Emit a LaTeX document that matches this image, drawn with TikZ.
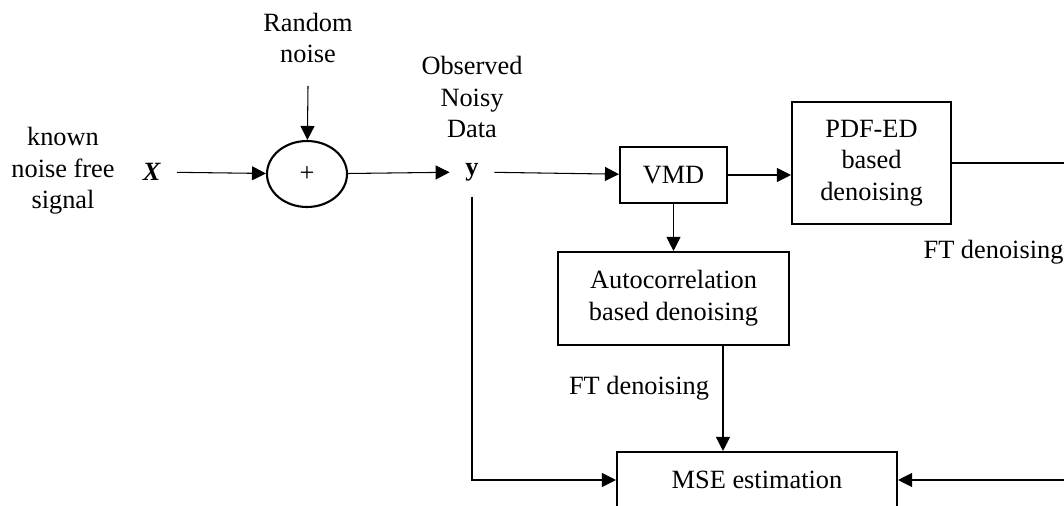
\documentclass[tikz,border=0pt]{standalone}
\usepackage{fontspec}
\setmainfont{Liberation Serif}
\usepackage{tikz}
\usepackage{amsmath}
\usepackage{xcolor}
\usetikzlibrary{arrows,shapes,positioning,fit,arrows.meta,backgrounds,calc}

\begin{document}
\begin{tikzpicture}[x=0.02cm,y=-0.02cm,font=\fontsize{15}{18}\selectfont,
  blk/.style={draw,line width=1.2pt,inner sep=0pt,align=center},
  sig/.style={inner sep=0pt,outer sep=9pt},
  txt/.style={align=center,inner sep=0pt},
  >={Triangle[length=0.28cm,width=0.28cm]}]
\useasboundingbox (0,0) rectangle (1064,506);
\clip (0,0) rectangle (1064,506);

\node[txt] (noisetxt) at (308,38) {Random\\noise};
\node[txt] (known) at (63,171) {known\\noise free\\signal};
\node[txt] (obs) at (472,97) {Observed\\Noisy\\Data};
\node[sig] (xin) at (152,172) {\textbf{\textit{X}}};
\node[draw,ellipse,line width=1.2pt,minimum width=1.6cm,minimum height=1.32cm] (sum) at (307,174) {+};
\node[sig] (yout) at (472,172) {\textbf{y}};
\node[blk,minimum width=2.14cm,minimum height=1.12cm] (vmd) at (673.5,175) {VMD};
\node[blk,minimum width=3.18cm,minimum height=2.44cm] (pdf) at (871.5,163) {PDF-ED\\based\\denoising};
\node[blk,minimum width=4.62cm,minimum height=1.86cm] (acorr) at (673.5,298.5) {Autocorrelation\\based denoising};
\node[blk,minimum width=5.6cm,minimum height=1.12cm] (mse) at (757,480) {MSE estimation};
\node[txt] (ftl) at (639,388) {FT denoising};
\node[txt] (ftr) at (993.5,252) {FT denoising};
\coordinate (nzin) at (308,86);
\coordinate (rt) at (1080,163);

\draw[->,line width=0.6pt] (nzin) -- (sum);
\draw[->,line width=0.6pt] (xin) -- (sum);
\draw[->,line width=0.6pt] (sum) -- (yout);
\draw[->,line width=0.6pt] (yout) -- (vmd);
\draw[->,line width=0.6pt] (vmd) -- (vmd -| pdf.west);
\draw[->,line width=0.6pt] (vmd) -- (acorr);
\draw[->,line width=0.6pt] ([xshift=0.99cm]acorr.south) -- ([xshift=0.99cm]acorr.south |- mse.north);
\draw[->,line width=0.6pt] (yout) |- (mse);

% right branch, cut at the page edge
\draw[line width=1.2pt] (pdf) -- (rt);
\draw[->,line width=0.6pt] (rt) |- (mse);
\end{tikzpicture}
\end{document}
